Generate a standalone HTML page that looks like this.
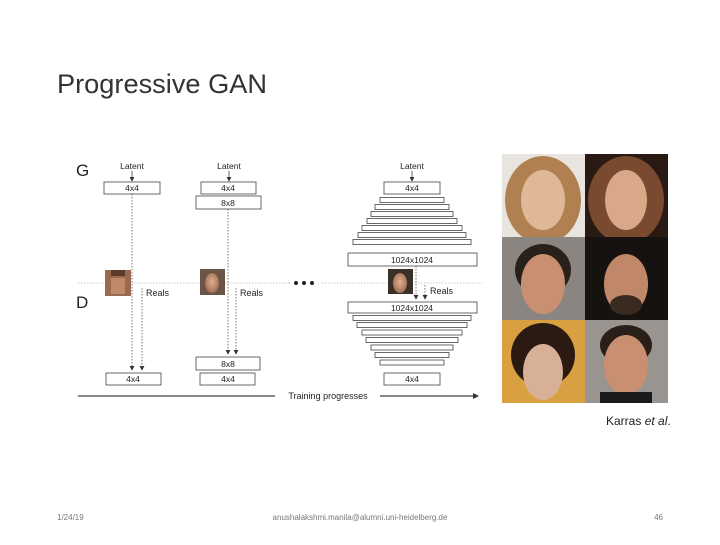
<!DOCTYPE html>
<html><head><style>
html,body{margin:0;padding:0;background:#fff;}
body{width:720px;height:540px;overflow:hidden;font-family:"Liberation Sans",sans-serif;}
</style></head><body>
<svg width="720" height="540" viewBox="0 0 720 540" xmlns="http://www.w3.org/2000/svg" font-family="Liberation Sans, sans-serif">
<defs>
<marker id="a" markerWidth="6" markerHeight="6" refX="5" refY="3" orient="auto"><path d="M0,0 L6,3 L0,6 z" fill="#333"/></marker>
<radialGradient id="skin" cx="50%" cy="45%" r="55%"><stop offset="0" stop-color="#e0b090"/><stop offset="1" stop-color="#a07050"/></radialGradient>
</defs>
<text x="57" y="93" font-size="27" fill="#333" textLength="210" lengthAdjust="spacingAndGlyphs">Progressive GAN</text>

<g font-size="8.5" fill="#222" text-anchor="middle">
<text x="76" y="176" font-size="17" text-anchor="start">G</text>
<text x="76" y="308" font-size="17" text-anchor="start">D</text>
<text x="132" y="169">Latent</text>
<text x="229" y="169">Latent</text>
<text x="412" y="169">Latent</text>
</g>
<g stroke="#444" stroke-width="0.8" fill="#fff">
<line x1="132" y1="171" x2="132" y2="181" marker-end="url(#a)"/>
<line x1="229" y1="171" x2="229" y2="181" marker-end="url(#a)"/>
<line x1="412" y1="171" x2="412" y2="181" marker-end="url(#a)"/>
<rect x="104" y="182" width="56" height="12"/>
<rect x="106" y="373" width="55" height="12"/>
<rect x="201" y="182" width="55" height="12"/>
<rect x="196" y="196" width="65" height="13"/>
<rect x="196" y="357" width="64" height="13"/>
<rect x="200" y="373" width="55" height="12"/>
<rect x="384" y="182" width="56" height="12"/>
<rect x="380" y="197.5" width="64" height="5"/>
<rect x="375" y="204.5" width="74" height="5"/>
<rect x="371" y="211.5" width="82" height="5"/>
<rect x="367" y="218.5" width="90" height="5"/>
<rect x="362" y="225.5" width="100" height="5"/>
<rect x="358" y="232.5" width="108" height="5"/>
<rect x="353" y="239.5" width="118" height="5"/>
<rect x="348" y="253" width="129" height="13"/>
<rect x="348" y="302" width="129" height="11"/>
<rect x="353" y="315.5" width="118" height="5"/>
<rect x="357" y="322.5" width="110" height="5"/>
<rect x="362" y="330" width="100" height="5"/>
<rect x="366" y="337.5" width="92" height="5"/>
<rect x="371" y="345" width="82" height="5"/>
<rect x="375" y="352.5" width="74" height="5"/>
<rect x="380" y="360" width="64" height="5"/>
<rect x="384" y="373" width="56" height="12"/>
</g>
<g stroke="#555" stroke-width="0.8" stroke-dasharray="1.5,1.5" fill="none">
<line x1="132" y1="194" x2="132" y2="370" marker-end="url(#a)"/>
<line x1="142" y1="288" x2="142" y2="370" marker-end="url(#a)"/>
<line x1="228" y1="209" x2="228" y2="354" marker-end="url(#a)"/>
<line x1="236" y1="288" x2="236" y2="354" marker-end="url(#a)"/>
<line x1="416" y1="266" x2="416" y2="299" marker-end="url(#a)"/>
<line x1="425" y1="285" x2="425" y2="299" marker-end="url(#a)"/>
<line x1="78" y1="283" x2="290" y2="283" stroke="#bbb"/>
<line x1="322" y1="283" x2="482" y2="283" stroke="#bbb"/>
</g>
<g fill="#222"><circle cx="296" cy="283" r="2"/><circle cx="304" cy="283" r="2"/><circle cx="312" cy="283" r="2"/></g>
<rect x="105" y="270" width="26" height="26" fill="#9a6a50"/>
<rect x="111" y="270" width="14" height="6" fill="#5a3a28"/>
<rect x="111" y="278" width="14" height="16" fill="#c08a6a"/>
<rect x="200" y="269" width="25" height="26" fill="#6b5548"/>
<ellipse cx="212" cy="283" rx="7" ry="10" fill="url(#skin)"/>
<rect x="388" y="269" width="25" height="25" fill="#3a3028"/>
<ellipse cx="400" cy="283" rx="7" ry="10" fill="url(#skin)"/>
<g font-size="9" fill="#222">
<text x="146" y="296">Reals</text>
<text x="240" y="296">Reals</text>
<text x="430" y="294">Reals</text>
</g>
<g font-size="8.5" fill="#222" text-anchor="middle">
<text x="132" y="191">4x4</text>
<text x="133" y="382">4x4</text>
<text x="228" y="191">4x4</text>
<text x="228" y="206">8x8</text>
<text x="228" y="367">8x8</text>
<text x="228" y="382">4x4</text>
<text x="412" y="191">4x4</text>
<text x="412" y="263">1024x1024</text>
<text x="412" y="311">1024x1024</text>
<text x="412" y="382">4x4</text>
</g>
<line x1="78" y1="396" x2="275" y2="396" stroke="#111" stroke-width="1"/>
<line x1="380" y1="396" x2="478" y2="396" stroke="#111" stroke-width="1" marker-end="url(#a)"/>
<text x="328" y="399" font-size="9" fill="#222" text-anchor="middle">Training progresses</text>

<g>
<rect x="502" y="154" width="83" height="83" fill="#e8e4e0"/>
<ellipse cx="543" cy="200" rx="38" ry="44" fill="#b08050"/>
<ellipse cx="543" cy="200" rx="22" ry="30" fill="#e0b898"/>
<rect x="585" y="154" width="83" height="83" fill="#2a1a14"/>
<ellipse cx="626" cy="200" rx="38" ry="44" fill="#7a4a30"/>
<ellipse cx="626" cy="200" rx="21" ry="30" fill="#d8a888"/>
<rect x="502" y="237" width="83" height="83" fill="#8a8580"/>
<ellipse cx="543" cy="270" rx="28" ry="26" fill="#2a201a"/>
<ellipse cx="543" cy="284" rx="22" ry="30" fill="#c89070"/>
<rect x="585" y="237" width="83" height="83" fill="#151210"/>
<ellipse cx="626" cy="284" rx="22" ry="30" fill="#c08868"/>
<ellipse cx="626" cy="305" rx="16" ry="10" fill="#3a2a20"/>
<rect x="502" y="320" width="83" height="83" fill="#d8a040"/>
<ellipse cx="543" cy="355" rx="32" ry="32" fill="#2a1a12"/>
<ellipse cx="543" cy="372" rx="20" ry="28" fill="#d8b098"/>
<rect x="585" y="320" width="83" height="83" fill="#9a9490"/>
<ellipse cx="626" cy="345" rx="26" ry="20" fill="#2a1e18"/>
<ellipse cx="626" cy="365" rx="22" ry="30" fill="#c89070"/>
<rect x="600" y="392" width="52" height="11" fill="#1a1a1a"/>
</g>
<text x="606" y="425" font-size="12" fill="#222">Karras <tspan font-style="italic">et al</tspan>.</text>

<g font-size="8" fill="#777">
<text x="57" y="520">1/24/19</text>
<text x="360" y="520" text-anchor="middle">anushalakshmi.manila@alumni.uni-heidelberg.de</text>
<text x="663" y="520" text-anchor="end">46</text>
</g>
</svg>
</body></html>
